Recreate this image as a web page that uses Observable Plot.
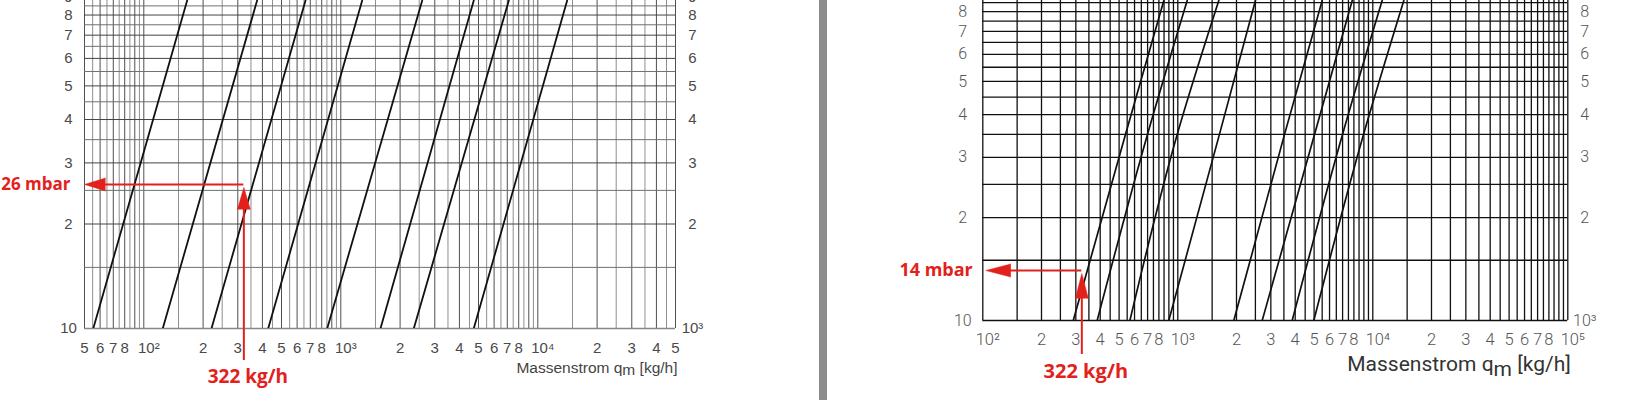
<!DOCTYPE html>
<html>
<head>
<meta charset="utf-8">
<script src="https://cdn.jsdelivr.net/npm/d3@7"></script>
<script src="https://cdn.jsdelivr.net/npm/@observablehq/plot@0.6"></script>
<style>
  body { margin: 0; background: #fff; }
  #wrap { position: relative; width: 1639px; height: 400px; overflow: hidden; background: #fff; }
  #left { position: absolute; left: 0; top: 0; }
  #bar { position: absolute; left: 819px; top: 0; width: 8px; height: 400px; background: #8c8c8c; }
  #right { position: absolute; left: 830px; top: 0; }
</style>
</head>
<body>
<div id="wrap"><div id="left"></div><div id="bar"></div><div id="right"></div></div>
<script>
// ---------- data ----------
const gridMantissas = [1, 1.5, 2, 2.5, 3, 3.5, 4, 4.5, 5, 5.5, 6, 6.5, 7, 7.5, 8, 8.5, 9, 9.5];
const pressureGrid = [10, 15, 20, 25, 30, 35, 40, 45, 50, 55, 60, 65, 70, 75, 80, 85];

// left chart (mbar on the left axis / Pa on the right axis)
const leftXDomain = [50, 50000];
const leftDecades = [10, 100, 1000, 10000];
const leftPTop = 88.1;                       // pressure at the upper edge of the visible chart
const leftCurveQAt10 = [55.4, 124.8, 220.6, 428, 853, 1590, 2347, 4731];
const leftCurveQAtTop = [166, 376, 662, 1284, 2590, 4731, 7127, 14095];
const leftNote = { q: 322, p: 26 };

const leftXTicks = [50, 60, 70, 80, 200, 300, 400, 500, 600, 700, 800, 2000, 3000, 4000, 5000, 6000, 7000, 8000, 20000, 30000, 40000, 50000];
const leftXLabels = ["5", "6", "7", "8", "2", "3", "4", "5", "6", "7", "8", "2", "3", "4", "5", "6", "7", "8", "2", "3", "4", "5"];
const leftXDecadeTicks = [100, 1000, 10000];
const leftXDecadeLabels = ["10²", "10³", "10⁴"];
const leftYTicks = [10, 20, 30, 40, 50, 60, 70, 80, 90];

// right chart
const rightXDomain = [100, 100000];
const rightDecades = [100, 1000, 10000];
const rightPTop = 86.2;
const rightCurveQAt10 = [291, 386, 568, 899, 1938, 2709, 3861, 4983];
const rightCurveQAt35 = [539, 699, 993, 1635, 3526, 5024, 6993, 8961];
const rightCurveQAtTop = [848, 1117, 1623, 2502, 5503, 7844, 11170, 14420];
const rightNote = { q: 322, p: 14 };

const rightXTicks = [200, 300, 400, 500, 600, 700, 800, 2000, 3000, 4000, 5000, 6000, 7000, 8000, 20000, 30000, 40000, 50000, 60000, 70000, 80000];
const rightXLabels = ["2", "3", "4", "5", "6", "7", "8", "2", "3", "4", "5", "6", "7", "8", "2", "3", "4", "5", "6", "7", "8"];
const rightXDecadeTicks = [100, 1000, 10000, 100000];
const rightXDecadeLabels = ["10²", "10³", "10⁴", "10⁵"];
const rightYTicks = [10, 20, 30, 40, 50, 60, 70, 80];

const yTicks = [10, 20, 30, 40, 50, 60, 70, 80, 90];
const yLabelsLeft = ["10", "2", "3", "4", "5", "6", "7", "8", "9"];
const yLabelsRight = ["10³", "2", "3", "4", "5", "6", "7", "8", "9"];

const axisTitle = "Massenstrom qm [kg/h]";

// ---------- helpers ----------
const red = "#e3211c";
const fmt = (ticks, labels) => { const m = new Map(ticks.map((t, i) => [t, labels[i]])); return v => m.get(v); };
const gridFrom = (decades, dom) => decades.flatMap(d => gridMantissas.map(m => ({ v: m * d, main: Number.isInteger(m) })))
  .concat([{ v: dom[1], main: true }])
  .filter(g => g.v >= dom[0] && g.v <= dom[1]);

function subscriptTitle(svg, shift) {
  d3.select(svg).selectAll("text").filter(function () { return this.textContent === axisTitle; })
    .each(function () {
      const t = d3.select(this);
      t.text(null);
      t.append("tspan").text("Massenstrom q");
      t.append("tspan").attr("dy", shift).text("m");
      t.append("tspan").attr("dy", -shift).text(" [kg/h]");
    });
}

function xLabels(ticks, labels, o) {
  return Plot.text(ticks, { x: d => d, text: fmt(ticks, labels), frameAnchor: "bottom", lineAnchor: "top", ...o });
}
function yLabels(ticks, labels, side, o) {
  return Plot.text(ticks, { y: d => d, text: fmt(yTicks, labels), frameAnchor: side, textAnchor: "middle", ...o });
}

// ---------- left chart ----------
const leftGrid = gridFrom(leftDecades, leftXDomain);
const leftCurves = leftCurveQAt10.flatMap((q, i) => [
  { id: i, q, p: 10 },
  { id: i, q: leftCurveQAtTop[i], p: leftPTop }
]);
const leftFont = "Liberation Sans, Arial, sans-serif";
const leftTxt = { fontSize: 15, fill: "#4a4a4a", fontFamily: leftFont };
const leftPlot = Plot.plot({
  width: 720, height: 400,
  marginLeft: 84, marginRight: 45, marginTop: 0, marginBottom: 72,
  x: { type: "log", domain: leftXDomain, axis: null },
  y: { type: "log", domain: [10, leftPTop], axis: null },
  style: { fontFamily: leftFont, background: "white", overflow: "visible" },
  marks: [
    Plot.ruleX(leftGrid.filter(g => !g.main), { x: "v", stroke: "#8e8e8e", strokeWidth: 1 }),
    Plot.ruleX(leftGrid.filter(g => g.main), { x: "v", stroke: "#505050", strokeWidth: 1 }),
    Plot.ruleY(pressureGrid.filter(p => p % 10 !== 0), { stroke: "#707070", strokeWidth: 1 }),
    Plot.ruleY(pressureGrid.filter(p => p % 10 === 0), { stroke: "#444", strokeWidth: 1 }),
    Plot.ruleY([10], { stroke: "#888", strokeWidth: 1.6 }),
    Plot.line(leftCurves, { x: "q", y: "p", z: "id", stroke: "#111", strokeWidth: 1.8, clip: true }),
    // annotation
    Plot.ruleY([leftNote], { y: "p", x1: leftXDomain[0], x2: "q", insetLeft: 16, stroke: red, strokeWidth: 2 }),
    Plot.ruleX([leftNote], { x: "q", y1: "p", y2: 10, insetBottom: -32, insetTop: 20, stroke: red, strokeWidth: 2 }),
    Plot.vector([leftNote], { x: leftXDomain[0], y: "p", rotate: -90, length: 21, r: 6.5, shape: "spike", anchor: "end", fill: red, stroke: red, strokeWidth: 0.5 }),
    Plot.vector([leftNote], { x: "q", y: "p", rotate: 0, length: 22, r: 6.5, shape: "spike", anchor: "end", dy: 3, fill: red, stroke: red, strokeWidth: 0.5 }),
    Plot.text([leftNote], { x: leftXDomain[0], y: "p", text: d => `${d.p} mbar`, textAnchor: "end", dx: -14, fill: red, fontWeight: "bold", fontSize: 17, fontFamily: "Open Sans, sans-serif" }),
    Plot.text([leftNote], { x: "q", frameAnchor: "bottom", text: d => `${d.q} kg/h`, dy: 54, dx: 4, fill: red, fontWeight: "bold", fontSize: 19, fontFamily: "Open Sans, sans-serif" }),
    // tick labels
    xLabels(leftXTicks, leftXLabels, { dy: 14, ...leftTxt }),
    xLabels(leftXDecadeTicks, leftXDecadeLabels, { dy: 14, dx: 5, ...leftTxt }),
    yLabels(leftYTicks, yLabelsLeft, "left", { dx: -16, ...leftTxt }),
    yLabels(leftYTicks, yLabelsRight, "right", { dx: 17, ...leftTxt }),
    Plot.text([axisTitle], { frameAnchor: "bottom-right", textAnchor: "end", dx: 2, dy: 44, fontSize: 15.5, fill: "#444" })
  ]
});
subscriptTitle(leftPlot, 2);
document.getElementById("left").appendChild(leftPlot);

// ---------- right chart ----------
const rightGrid = gridFrom(rightDecades, rightXDomain);
const rightCurves = rightCurveQAt10.flatMap((q, i) => [
  { id: i, q, p: 10 },
  { id: i, q: rightCurveQAt35[i], p: 35 },
  { id: i, q: rightCurveQAtTop[i], p: rightPTop }
]);
const rightFont = "Roboto, Liberation Sans, sans-serif";
const rightTxt = { fontSize: 16.5, fontWeight: 300, fill: "#555", fontFamily: rightFont };
const rightPlot = Plot.plot({
  width: 809, height: 400,
  marginLeft: 152.3, marginRight: 71.7, marginTop: 0, marginBottom: 80,
  x: { type: "log", domain: rightXDomain, axis: null },
  y: { type: "log", domain: [10, rightPTop], axis: null },
  style: { fontFamily: rightFont, background: "white", overflow: "visible" },
  marks: [
    Plot.ruleX(rightGrid, { x: "v", stroke: "#111", strokeWidth: 1.3 }),
    Plot.ruleY(pressureGrid, { stroke: "#111", strokeWidth: 1.3 }),
    Plot.line(rightCurves, { x: "q", y: "p", z: "id", curve: "monotone-y", stroke: "#111", strokeWidth: 1.7, clip: true }),
    // annotation
    Plot.ruleY([rightNote], { y: "p", x1: rightXDomain[0], x2: "q", insetLeft: 18, stroke: red, strokeWidth: 2 }),
    Plot.ruleX([rightNote], { x: "q", y1: "p", y2: 10, insetBottom: -34, insetTop: 20, stroke: red, strokeWidth: 2 }),
    Plot.vector([rightNote], { x: rightXDomain[0], y: "p", rotate: -90, length: 25, r: 6.5, shape: "spike", anchor: "end", dx: 3, fill: red, stroke: red, strokeWidth: 0.5 }),
    Plot.vector([rightNote], { x: "q", y: "p", rotate: 0, length: 25, r: 6.5, shape: "spike", anchor: "end", dy: 3, fill: red, stroke: red, strokeWidth: 0.5 }),
    Plot.text([rightNote], { x: rightXDomain[0], y: "p", text: d => `${d.p} mbar`, textAnchor: "end", dx: -10, fill: red, fontWeight: "bold", fontSize: 18, fontFamily: "Open Sans, sans-serif" }),
    Plot.text([rightNote], { x: "q", frameAnchor: "bottom", text: d => `${d.q} kg/h`, dy: 57, dx: 4, fill: red, fontWeight: "bold", fontSize: 20, fontFamily: "Open Sans, sans-serif" }),
    // tick labels
    xLabels(rightXTicks, rightXLabels, { dy: 13, ...rightTxt }),
    xLabels(rightXDecadeTicks, rightXDecadeLabels, { dy: 13, dx: 5, ...rightTxt }),
    yLabels(rightYTicks, yLabelsLeft, "left", { dx: -20, ...rightTxt, fontSize: 16 }),
    yLabels(rightYTicks, yLabelsRight, "right", { dx: 17, ...rightTxt, fontSize: 16 }),
    Plot.text([axisTitle], { frameAnchor: "bottom-right", textAnchor: "end", dx: 3, dy: 50, fontSize: 21, fill: "#333" })
  ]
});
subscriptTitle(rightPlot, 5);
document.getElementById("right").appendChild(rightPlot);
</script>
</body>
</html>
